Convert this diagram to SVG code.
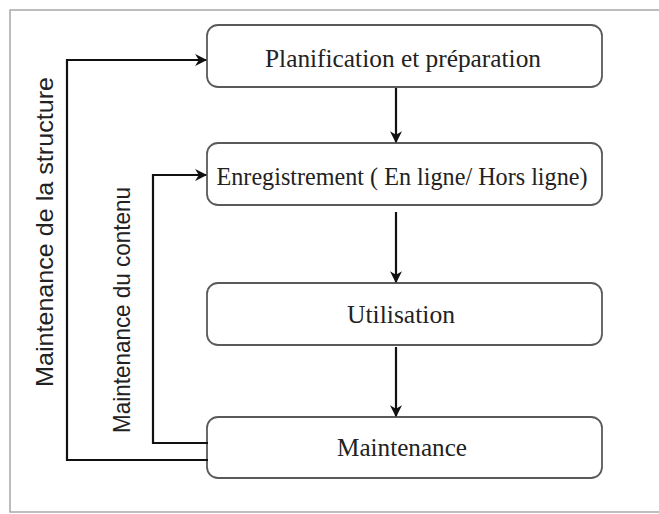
<svg xmlns="http://www.w3.org/2000/svg" width="659" height="514" viewBox="0 0 659 514">
  <style>
    .frame { fill: none; stroke: #a8a8a8; stroke-width: 1.5; }
    .box { fill: #ffffff; stroke: #5a5a5a; stroke-width: 1.8; }
    .label { font-family: "Liberation Serif", "Times New Roman", serif; font-size: 25px; fill: #222222; text-anchor: middle; }
    .side { font-family: "Liberation Sans", Arial, sans-serif; font-size: 24px; fill: #222222; text-anchor: middle; }
    .conn { fill: none; stroke: #111111; stroke-width: 2.2; }
  </style>
  <defs>
    <marker id="arrow" viewBox="0 0 10 10" refX="9" refY="5" markerWidth="5.5" markerHeight="5.5" orient="auto" markerUnits="strokeWidth">
      <path d="M0,0 L10,5 L0,10 L3,5 Z" fill="#111111"/>
    </marker>
  </defs>

  <rect width="659" height="514" fill="#ffffff"/>
  <rect class="frame" x="10" y="10" width="700" height="502"/>

  <g id="planification">
    <rect class="box" x="207" y="25" width="395" height="62" rx="11"/>
    <text class="label" x="403" y="67" textLength="276" lengthAdjust="spacingAndGlyphs">Planification et préparation</text>
  </g>

  <g id="enregistrement">
    <rect class="box" x="207" y="143" width="395" height="62" rx="11"/>
    <text class="label" x="402" y="185" textLength="371" lengthAdjust="spacingAndGlyphs">Enregistrement ( En ligne/ Hors ligne)</text>
  </g>

  <g id="utilisation">
    <rect class="box" x="207" y="283" width="395" height="62" rx="11"/>
    <text class="label" x="401" y="323" textLength="108" lengthAdjust="spacingAndGlyphs">Utilisation</text>
  </g>

  <g id="maintenance">
    <rect class="box" x="207" y="417" width="395" height="61" rx="11"/>
    <text class="label" x="402" y="456" textLength="130" lengthAdjust="spacingAndGlyphs">Maintenance</text>
  </g>

  <g id="connectors">
    <line class="conn" x1="396" y1="88" x2="396" y2="142" marker-end="url(#arrow)"/>
    <line class="conn" x1="396" y1="212" x2="396" y2="282" marker-end="url(#arrow)"/>
    <line class="conn" x1="396" y1="347" x2="396" y2="416" marker-end="url(#arrow)"/>
    <polyline class="conn" points="208,460 67,460 67,60 206,60" marker-end="url(#arrow)"/>
    <polyline class="conn" points="208,443 153,443 153,175 206,175" marker-end="url(#arrow)"/>
  </g>

  <g id="side-labels">
    <text class="side" transform="translate(53,232) rotate(-90)" textLength="310" lengthAdjust="spacingAndGlyphs">Maintenance de la structure</text>
    <text class="side" transform="translate(130,310) rotate(-90)" textLength="246" lengthAdjust="spacingAndGlyphs">Maintenance du contenu</text>
  </g>
</svg>
